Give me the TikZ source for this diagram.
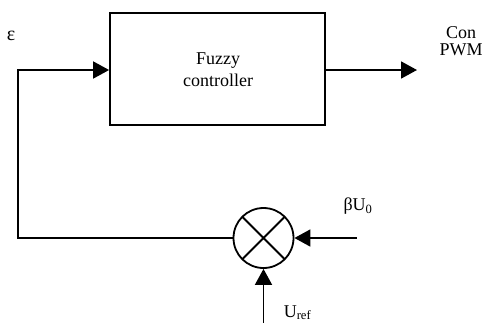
\documentclass[tikz,border=0pt]{standalone}
\usepackage{fontspec}
\setmainfont{Liberation Serif}
\usetikzlibrary{arrows.meta}
\tikzset{
  wire/.style={line width=1.8pt, line cap=rect},
  arr/.style={wire, -{Triangle[length=16pt,width=17pt]}},
  lbl/.style={font=\fontsize{18}{17}\selectfont, inner sep=0pt, align=center},
}
\begin{document}
\begin{tikzpicture}[x=1pt,y=-1pt]
\useasboundingbox (0,0) rectangle (486,322);
\clip (0,0) rectangle (486,322);
\node[draw, line width=1.8pt, minimum width=215pt, minimum height=112pt, inner sep=0pt] (box) at (217.5,69) {};
\node[lbl, font=\fontsize{18}{22}\selectfont] (boxtxt) at (218,70) {Fuzzy\\controller};
\node[draw, circle, line width=1.8pt, minimum size=60pt, inner sep=0pt,
  path picture={\draw[line width=1.8pt] (path picture bounding box.north west) -- (path picture bounding box.south east)
  (path picture bounding box.north east) -- (path picture bounding box.south west);}] (sum) at (263.5,238) {};
\coordinate (outend) at (417,70);
\coordinate (lc) at (18,238);
\coordinate (lt) at (18,70);
\coordinate (rin) at (356,238);
\coordinate (bin) at (263.5,330);
\draw[arr] (box.east |- outend) -- (outend);
\draw[arr] (sum.west) -- (lc) -- (lt) -- (box.west |- lt);
\draw[arr] (rin) -- (sum.east);
\draw[arr] (bin) -- (sum.south);
\node[lbl, font=\fontsize{20}{20}\selectfont] (eps) at (11,36) {ε};
\node[lbl] (pwm) at (461,41) {Con\\PWM};
\node[lbl] (bu) at (358,206) {βU\textsubscript{0}};
\node[lbl, anchor=base] (uref) at (297.5,317) {U\textsubscript{ref}};
\end{tikzpicture}
\end{document}
